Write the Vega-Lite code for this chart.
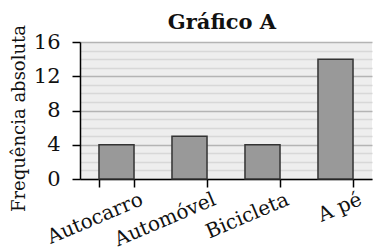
{
  "$schema": "https://vega.github.io/schema/vega-lite/v6.json",
  "autosize": "none",
  "width": 292,
  "height": 137,
  "padding": {"left": 80, "top": 42, "right": 2, "bottom": 73},
  "background": "white",
  "config": {
    "font": "DejaVu Serif",
    "view": {"fill": "#eeeeee", "stroke": null},
    "axis": {"labelFont": "DejaVu Serif", "titleFont": "DejaVu Serif"},
    "title": {"font": "DejaVu Serif"}
  },
  "title": {
    "text": "Gráfico A",
    "fontSize": 21,
    "fontWeight": "bold",
    "font": "DejaVu Serif",
    "color": "#111111",
    "offset": 0,
    "dy": 9,
    "dx": -4
  },
  "data": {
    "values": [
      {"meio": "Autocarro", "freq": 4},
      {"meio": "Automóvel", "freq": 5},
      {"meio": "Bicicleta", "freq": 4},
      {"meio": "A pé", "freq": 14}
    ]
  },
  "mark": {"type": "bar", "fill": "#999999", "stroke": "#333333", "strokeWidth": 1.5},
  "encoding": {
    "x": {
      "field": "meio",
      "type": "nominal",
      "sort": null,
      "scale": {"paddingInner": 0.52, "paddingOuter": 0.26},
      "axis": {
        "title": null,
        "tickBand": "extent",
        "labelAngle": -23,
        "labelAlign": "right",
        "labelBaseline": "top",
        "labelOffset": 21,
        "labelPadding": 2,
        "labelFontSize": 20,
        "labelColor": "#111111",
        "labelFont": "DejaVu Serif",
        "labelOverlap": false,
        "labelBound": false,
        "domainColor": "#000000",
        "domainWidth": 1.5,
        "tickColor": "#000000",
        "tickWidth": 1.5,
        "tickSize": 8
      }
    },
    "y": {
      "field": "freq",
      "type": "quantitative",
      "scale": {"domain": [0, 16], "nice": false},
      "axis": {
        "title": "Frequência absoluta",
        "titleFontSize": 18,
        "titleFontWeight": "normal",
        "titleFont": "DejaVu Serif",
        "titleColor": "#111111",
        "titleY": 76,
        "titleX": -52,
        "values": [0,1,2,3,4,5,6,7,8,9,10,11,12,13,14,15,16],
        "labelExpr": "datum.value % 4 === 0 ? datum.label : ''",
        "labelFontSize": 21,
        "labelColor": "#111111",
        "labelFont": "DejaVu Serif",
        "labelPadding": 12,
        "grid": true,
        "gridColor": {"condition": {"test": "datum.value % 4 === 0", "value": "#b4b4b4"}, "value": "#d8d8d8"},
        "gridWidth": 1.5,
        "domainColor": "#000000",
        "domainWidth": 1.5,
        "tickColor": "#000000",
        "tickWidth": 1.5,
        "tickSize": 8,
        "tickOpacity": {"condition": {"test": "datum.value % 4 === 0", "value": 1}, "value": 0}
      }
    }
  }
}
